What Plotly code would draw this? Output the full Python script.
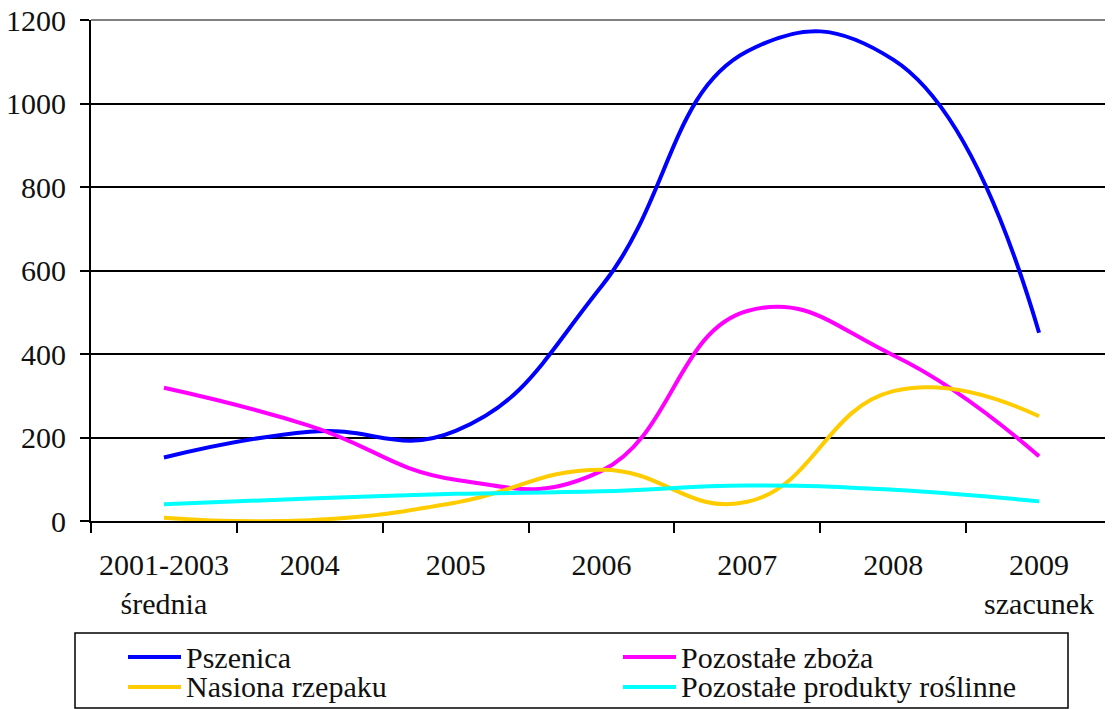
import plotly.graph_objects as go

categories = ["2001-2003<br>średnia", "2004", "2005", "2006", "2007", "2008", "2009<br>szacunek"]
pszenica = [152, 214, 216, 562, 1125, 1105, 451]
pozostale_zboza = [319, 228, 99, 120, 503, 397, 155]
nasiona_rzepaku = [8, 2, 44, 123, 46, 311, 251]
pozostale_produkty = [40, 54, 65, 71, 85, 75, 47]

series_names = ["Pszenica", "Pozostałe zboża", "Nasiona rzepaku", "Pozostałe produkty roślinne"]
series_values = [pszenica, pozostale_zboza, nasiona_rzepaku, pozostale_produkty]
series_colors = ["#0000FF", "#FF00FF", "#FFCC00", "#00FFFF"]

y_ticks = [0, 200, 400, 600, 800, 1000, 1200]

FONT = "Liberation Serif, Times New Roman, serif"
FS = 30
TXT = "#111111"
W, H = 1105, 701
OFF = 8
ML, MR, MT, MB = 83, 1, 12, 188
PW, PH = W - ML - MR, H - MT - MB


def px_x(px):
    return (px - OFF - ML) / PW


def px_y(py):
    return (H - MB - (py - OFF)) / PH


fig = go.Figure()
for name, vals, col in zip(series_names, series_values, series_colors):
    fig.add_trace(go.Scatter(
        x=categories, y=vals, name=name, mode="lines",
        line=dict(color=col, width=4, shape="spline", smoothing=1.3),
        showlegend=False,
    ))

fig.update_layout(
    width=W, height=H,
    margin=dict(l=ML, r=MR, t=MT, b=MB, autoexpand=False),
    paper_bgcolor="white", plot_bgcolor="white",
    font=dict(family=FONT, size=FS, color=TXT),
    showlegend=False,
    xaxis=dict(
        type="category", categoryorder="array", categoryarray=categories,
        range=[-0.5, 6.5], tickson="boundaries", ticks="outside", ticklen=10,
        tickwidth=2, tickcolor="black", showline=True, linecolor="black", linewidth=2,
        showgrid=False, ticklabelstandoff=16, automargin=False,
        tickfont=dict(family=FONT, size=FS, color=TXT),
    ),
    yaxis=dict(
        range=[0, 1200], tickvals=y_ticks, ticks="outside", ticklen=9,
        tickwidth=2, tickcolor="black", showline=True, linecolor="black", linewidth=2,
        showgrid=True, gridcolor="black", gridwidth=2, zeroline=False, automargin=False,
        ticklabeloverflow="allow", ticklabelstandoff=8,
        tickfont=dict(family=FONT, size=FS, color=TXT),
    ),
)

# gray plot-area border on top and right
fig.add_shape(type="line", xref="paper", yref="paper", x0=0, x1=1, y0=1, y1=1,
              line=dict(color="#808080", width=2), layer="above")
fig.add_shape(type="line", xref="paper", yref="paper", x0=1, x1=1, y0=0, y1=1,
              line=dict(color="#808080", width=2), layer="above")

# legend box below the chart
fig.add_shape(type="rect", xref="paper", yref="paper",
              x0=px_x(75), x1=px_x(1068), y0=px_y(633), y1=px_y(708),
              line=dict(color="black", width=1.5), fillcolor="white", layer="above")
legend_slots = [(128, 657), (623, 657), (128, 687), (623, 687)]
for (lx, ly), name, col in zip(legend_slots, series_names, series_colors):
    fig.add_shape(type="line", xref="paper", yref="paper",
                  x0=px_x(lx), x1=px_x(lx + 53), y0=px_y(ly), y1=px_y(ly),
                  line=dict(color=col, width=4), layer="above")
    fig.add_annotation(xref="paper", yref="paper", x=px_x(lx + 56), y=px_y(ly),
                       text=name, showarrow=False, xanchor="left", yanchor="middle",
                       font=dict(family=FONT, size=FS, color=TXT))

fig.write_html("out.html")
